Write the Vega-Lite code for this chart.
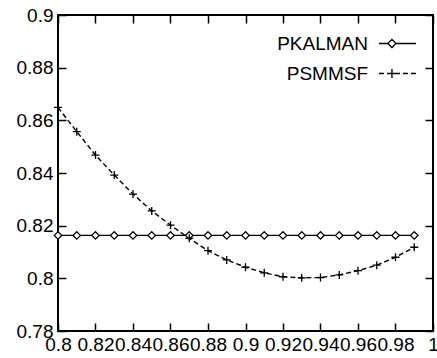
{
  "$schema": "https://vega.github.io/schema/vega-lite/v6.json",
  "autosize": "none",
  "padding": {"left": 58, "top": 15, "right": 4, "bottom": 27},
  "width": 375,
  "height": 316,
  "background": "white",
  "config": {
    "view": {"stroke": "black", "strokeWidth": 2},
    "axis": {
      "labelFont": "Liberation Sans", "labelFontSize": 19, "labelColor": "black",
      "ticks": true, "tickColor": "black", "tickSize": -8, "tickWidth": 1.5, "tickOpacity": 1,
      "domain": false, "grid": false, "zindex": 1,
      "title": null, "labelPadding": 12
    },
    "legend": {"labelFont": "Liberation Sans", "labelFontSize": 19, "labelColor": "black"}
  },
  "data": {"values": [
    {"x": 0.80, "y": 0.8163, "s": "PKALMAN"}, {"x": 0.81, "y": 0.8163, "s": "PKALMAN"},
    {"x": 0.82, "y": 0.8163, "s": "PKALMAN"}, {"x": 0.83, "y": 0.8163, "s": "PKALMAN"},
    {"x": 0.84, "y": 0.8163, "s": "PKALMAN"}, {"x": 0.85, "y": 0.8163, "s": "PKALMAN"},
    {"x": 0.86, "y": 0.8163, "s": "PKALMAN"}, {"x": 0.87, "y": 0.8163, "s": "PKALMAN"},
    {"x": 0.88, "y": 0.8163, "s": "PKALMAN"}, {"x": 0.89, "y": 0.8163, "s": "PKALMAN"},
    {"x": 0.90, "y": 0.8163, "s": "PKALMAN"}, {"x": 0.91, "y": 0.8163, "s": "PKALMAN"},
    {"x": 0.92, "y": 0.8163, "s": "PKALMAN"}, {"x": 0.93, "y": 0.8163, "s": "PKALMAN"},
    {"x": 0.94, "y": 0.8163, "s": "PKALMAN"}, {"x": 0.95, "y": 0.8163, "s": "PKALMAN"},
    {"x": 0.96, "y": 0.8163, "s": "PKALMAN"}, {"x": 0.97, "y": 0.8163, "s": "PKALMAN"},
    {"x": 0.98, "y": 0.8163, "s": "PKALMAN"}, {"x": 0.99, "y": 0.8163, "s": "PKALMAN"},
    {"x": 0.80, "y": 0.8649, "s": "PSMMSF"}, {"x": 0.81, "y": 0.8557, "s": "PSMMSF"},
    {"x": 0.82, "y": 0.8468, "s": "PSMMSF"}, {"x": 0.83, "y": 0.8392, "s": "PSMMSF"},
    {"x": 0.84, "y": 0.8320, "s": "PSMMSF"}, {"x": 0.85, "y": 0.8256, "s": "PSMMSF"},
    {"x": 0.86, "y": 0.8202, "s": "PSMMSF"}, {"x": 0.87, "y": 0.8152, "s": "PSMMSF"},
    {"x": 0.88, "y": 0.8105, "s": "PSMMSF"}, {"x": 0.89, "y": 0.8070, "s": "PSMMSF"},
    {"x": 0.90, "y": 0.8042, "s": "PSMMSF"}, {"x": 0.91, "y": 0.8021, "s": "PSMMSF"},
    {"x": 0.92, "y": 0.8006, "s": "PSMMSF"}, {"x": 0.93, "y": 0.8002, "s": "PSMMSF"},
    {"x": 0.94, "y": 0.8003, "s": "PSMMSF"}, {"x": 0.95, "y": 0.8013, "s": "PSMMSF"},
    {"x": 0.96, "y": 0.8029, "s": "PSMMSF"}, {"x": 0.97, "y": 0.8050, "s": "PSMMSF"},
    {"x": 0.98, "y": 0.8080, "s": "PSMMSF"}, {"x": 0.99, "y": 0.8118, "s": "PSMMSF"}
  ]},
  "resolve": {"axis": {"x": "independent", "y": "independent"}},
  "layer": [
    {
      "mark": {"type": "line", "color": "black", "strokeWidth": 1.4},
      "encoding": {
        "x": {"field": "x", "type": "quantitative", "scale": {"domain": [0.8, 1], "nice": false, "zero": false},
              "axis": {"orient": "bottom", "values": [0.8, 0.82, 0.84, 0.86, 0.88, 0.9, 0.92, 0.94, 0.96, 0.98, 1], "format": "~g", "labelFlush": false}},
        "y": {"field": "y", "type": "quantitative", "scale": {"domain": [0.78, 0.9], "nice": false, "zero": false},
              "axis": {"orient": "left", "values": [0.78, 0.8, 0.82, 0.84, 0.86, 0.88, 0.9], "format": "~g", "labelPadding": 13}},
        "strokeDash": {"field": "s", "type": "nominal", "scale": {"domain": ["PKALMAN", "PSMMSF"], "range": [[1, 0], [5, 3]]},
          "legend": {
            "title": null, "orient": "none", "legendX": 320, "legendY": 9, "padding": 0,
            "symbolSize": 1369, "symbolStrokeWidth": 1.4, "symbolStrokeColor": "black",
            "labelAlign": "right", "labelOffset": -49, "rowPadding": -26,
            "encode": {"symbols": {"update": {
              "fill": {"value": "transparent"},
              "stroke": {"value": "black"},
              "shape": {"signal": "datum.value === 'PKALMAN' ? 'M-1,0H-0.52M-0.08,0H1M-0.3,-0.22L-0.08,0L-0.3,0.22L-0.52,0Z' : 'M-1,0H1M-0.3,0V-0.24M-0.3,0V0.24M-0.3,0H-0.54M-0.3,0H-0.06'"}}}}
          }
        }
      }
    },
    {
      "transform": [{"filter": "datum.s === 'PKALMAN'"}],
      "mark": {"type": "point", "shape": "M0,-1L1,0L0,1L-1,0Z", "fill": "white", "stroke": "black", "strokeWidth": 1.3, "opacity": 1, "size": 56},
      "encoding": {
        "x": {"field": "x", "type": "quantitative",
              "axis": {"orient": "top", "values": [0.8, 0.82, 0.84, 0.86, 0.88, 0.9, 0.92, 0.94, 0.96, 0.98, 1], "labels": false}},
        "y": {"field": "y", "type": "quantitative",
              "axis": {"orient": "right", "values": [0.78, 0.8, 0.82, 0.84, 0.86, 0.88, 0.9], "labels": false}}
      }
    },
    {
      "transform": [{"filter": "datum.s === 'PSMMSF'"}],
      "mark": {"type": "point", "shape": "M-1,0H1M0,-1V1", "fill": "transparent", "stroke": "black", "strokeWidth": 1.3, "opacity": 1, "size": 64},
      "encoding": {
        "x": {"field": "x", "type": "quantitative", "axis": null},
        "y": {"field": "y", "type": "quantitative", "axis": null}
      }
    }
  ]
}
